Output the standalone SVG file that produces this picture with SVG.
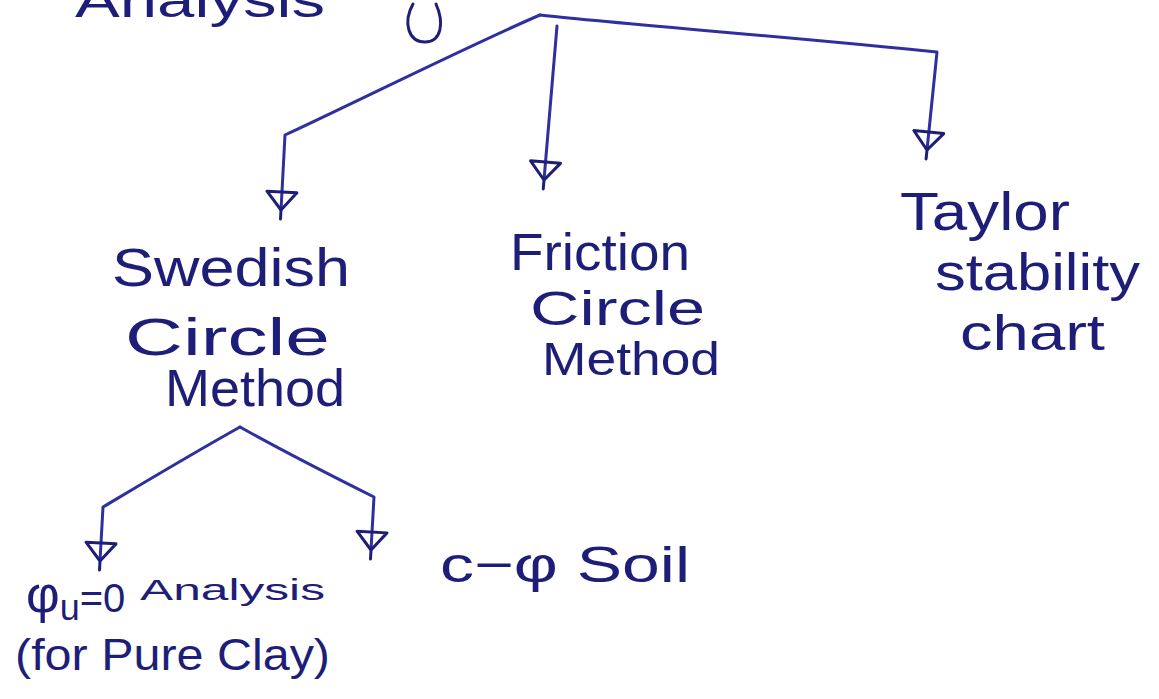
<svg xmlns="http://www.w3.org/2000/svg" width="1159" height="699" viewBox="0 0 1159 699">
<style>
.t{font-family:"Liberation Sans",Arial,sans-serif;fill:#1e1e78;font-weight:normal}
.c{fill:none;stroke:#2f2fa0;stroke-width:3;stroke-linecap:round;stroke-linejoin:round}
</style>
<defs>
<marker id="tri" markerUnits="userSpaceOnUse" markerWidth="50" markerHeight="50" viewBox="-30 -25 50 50" refX="0" refY="0" orient="auto">
<path d="M-18,-15 L0,0 L-18,15 Z M0,0 L9,0" fill="none" stroke="#1e1e78" stroke-width="3" stroke-linejoin="round" stroke-linecap="round"/>
</marker>
</defs>
<rect width="1159" height="699" fill="#ffffff"/>
<g id="top">
<text class="t" x="75" y="17" font-size="48" textLength="250" lengthAdjust="spacingAndGlyphs">Analysis</text>
<path class="c" d="M413,4 C403,22 408,42 425,42 C442,42 444,22 436,4" style="stroke:#1e1e78"/>
</g>
<g id="connectors">
<path class="c" d="M540,15 C470,45 350,105 285,135 L281,210" marker-end="url(#tri)"/>
<path class="c" d="M557,26 L544,180" marker-end="url(#tri)"/>
<path class="c" d="M540,15 C600,22 800,38 937,52 L927,150" marker-end="url(#tri)"/>
<path class="c" d="M240,427 C190,455 140,485 103,507 L100,561" marker-end="url(#tri)"/>
<path class="c" d="M240,427 C290,455 330,475 374,497 L371,550" marker-end="url(#tri)"/>
</g>
<g id="swedish">
<text class="t" x="112" y="286" font-size="54" textLength="238" lengthAdjust="spacingAndGlyphs">Swedish</text>
<text class="t" x="125" y="355" font-size="52" textLength="205" lengthAdjust="spacingAndGlyphs">Circle</text>
<text class="t" x="165" y="406" font-size="52" textLength="180" lengthAdjust="spacingAndGlyphs">Method</text>
</g>
<g id="friction">
<text class="t" x="510" y="270" font-size="52" textLength="180" lengthAdjust="spacingAndGlyphs">Friction</text>
<text class="t" x="530" y="325" font-size="48" textLength="175" lengthAdjust="spacingAndGlyphs">Circle</text>
<text class="t" x="542" y="375" font-size="46" textLength="178" lengthAdjust="spacingAndGlyphs">Method</text>
</g>
<g id="taylor">
<text class="t" x="900" y="230" font-size="54" textLength="170" lengthAdjust="spacingAndGlyphs">Taylor</text>
<text class="t" x="935" y="290" font-size="52" textLength="205" lengthAdjust="spacingAndGlyphs">stability</text>
<text class="t" x="960" y="350" font-size="50" textLength="145" lengthAdjust="spacingAndGlyphs">chart</text>
</g>
<g id="phiu">
<text class="t" x="26" y="612" font-size="52">φ<tspan font-size="36" dy="8">u</tspan><tspan font-size="40" dy="-8">=0</tspan></text>
<text class="t" x="140" y="600" font-size="30" textLength="185" lengthAdjust="spacingAndGlyphs">Analysis</text>
<text class="t" x="15" y="670" font-size="44" textLength="315" lengthAdjust="spacingAndGlyphs">(for Pure Clay)</text>
</g>
<g id="cphi">
<text class="t" x="440" y="582" font-size="50" textLength="250" lengthAdjust="spacingAndGlyphs">c−φ Soil</text>
</g>
</svg>
